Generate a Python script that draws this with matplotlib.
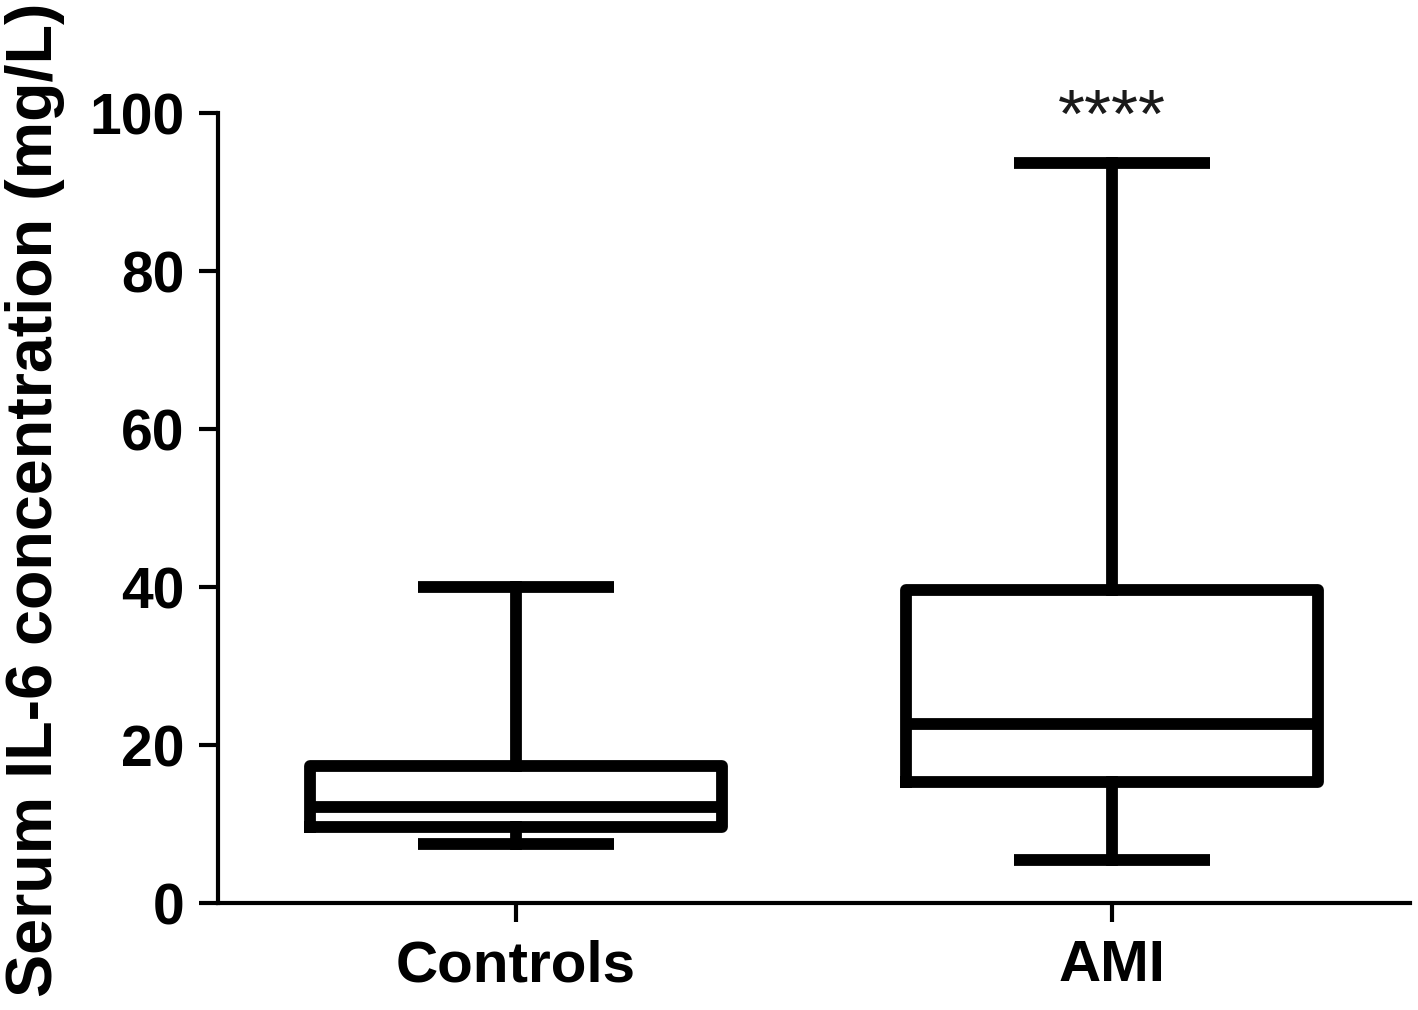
import matplotlib
matplotlib.use("Agg")
import matplotlib.pyplot as plt

categories = ["Controls", "AMI"]
whisker_low = [7.5, 5.4]
q1 = [9.6, 15.3]
median = [12.2, 22.7]
q3 = [17.3, 39.6]
whisker_high = [40.0, 93.7]
yticks = [0, 20, 40, 60, 80, 100]
significance = ["", "****"]

plt.rcParams['font.family'] = ['Liberation Sans', 'DejaVu Sans']

fig = plt.figure(figsize=(14.18, 10.10), dpi=100)
ax = fig.add_axes([0.1537, 0.1059, 0.8407, 0.7821])

stats = []
for i, c in enumerate(categories):
    stats.append(dict(label=c, whislo=whisker_low[i], q1=q1[i], med=median[i],
                      q3=q3[i], whishi=whisker_high[i]))

lw = 8.5
ax.bxp(stats, positions=range(len(categories)), widths=0.69, capwidths=0.33,
       showfliers=False,
       boxprops=dict(linewidth=lw, color='black'),
       medianprops=dict(linewidth=lw, color='black'),
       whiskerprops=dict(linewidth=lw, color='black'),
       capprops=dict(linewidth=lw, color='black', solid_capstyle='butt'))

for i, s in enumerate(significance):
    if s:
        ax.text(i, 97.0, s, ha='center', va='baseline', fontsize=50, color='#1a1a1a')

ax.set_xlim(-0.5, 1.5)
ax.set_ylim(0, 100)
ax.set_yticks(yticks)
ax.set_xticks(range(len(categories)))
ax.set_xticklabels(categories)
ax.spines['top'].set_visible(False)
ax.spines['right'].set_visible(False)
for sp in ['left', 'bottom']:
    ax.spines[sp].set_linewidth(3)
ax.tick_params(axis='both', width=3, length=14, labelsize=41)
ax.tick_params(axis='y', pad=10)
ax.tick_params(axis='x', pad=12, labelsize=42)
for lab in ax.get_xticklabels() + ax.get_yticklabels():
    lab.set_fontweight('bold')
ax.set_ylabel("Serum IL-6 concentration (mg/L)", fontsize=46.5, fontweight='bold')
ax.yaxis.set_label_coords(-0.128, 0.51)

fig.savefig("out.png", dpi=100)
